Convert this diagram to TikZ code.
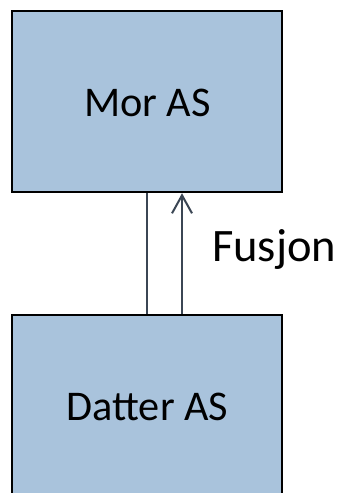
\documentclass[tikz,border=0pt]{standalone}
\usepackage{fontspec}
\setmainfont{Carlito}
\usetikzlibrary{arrows.meta}
\definecolor{boxfill}{RGB}{169,195,220}
\definecolor{linecol}{RGB}{59,70,84}
\begin{document}
\begin{tikzpicture}[x=1pt,y=1pt,
  entity/.style={draw=black,line width=2.5pt,fill=boxfill,minimum width=270pt,inner sep=0pt},
  boxtext/.style={font=\fontsize{42.3}{48}\selectfont,inner sep=0pt,anchor=base},
  conn/.style={draw=linecol,line width=2pt}]
\useasboundingbox (0,0) rectangle (344,493);
\clip (0,0) rectangle (344,493);
\node[entity,minimum height=181pt] (mor) at (147,391.5) {};
\node[entity,minimum height=198pt] (datter) at (147,79) {};
\node[boxtext] (mortxt) at (147.5,376) {Mor AS};
\node[boxtext] (dattertxt) at (147.5,72.3) {Datter AS};
\draw[conn] (datter.north) -- (mor.south);
\draw[conn,-{Straight Barb[length=18pt,width=20pt]}] ([xshift=35pt]datter.north) -- ([xshift=35pt]mor.south);
\node[font=\fontsize{46.5}{52}\selectfont,inner sep=0pt,anchor=base west] (fusjon) at (212,231) {Fusjon};
\end{tikzpicture}
\end{document}
